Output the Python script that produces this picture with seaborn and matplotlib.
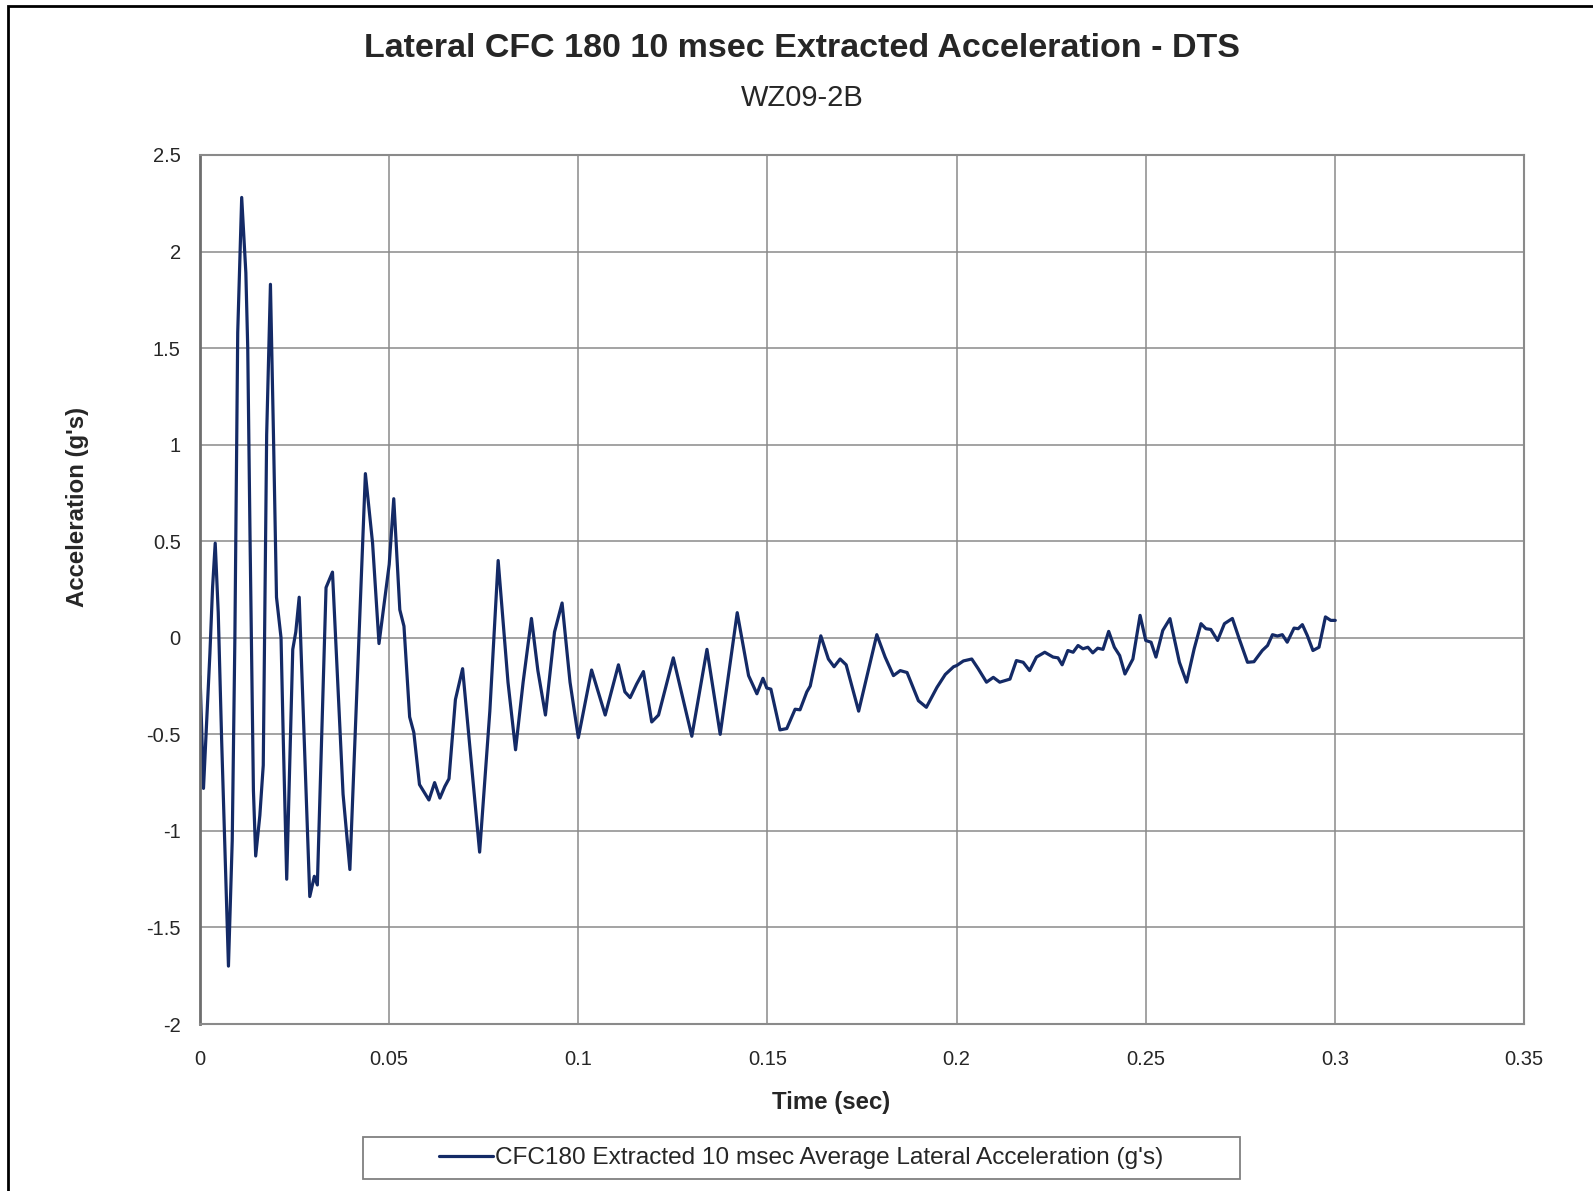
import matplotlib
matplotlib.use("Agg")
import matplotlib.pyplot as plt
from matplotlib.patches import Rectangle
import seaborn as sns
import pandas as pd

# values
time_sec = [
    0.0000, 0.0009, 0.0026, 0.0033, 0.0040, 0.0048, 0.0057, 0.0075, 0.0085, 0.0092,
    0.00995, 0.0110, 0.0121, 0.0126, 0.0132, 0.0141, 0.0147, 0.0158, 0.0167, 0.0176,
    0.0186, 0.0194, 0.0202, 0.0214, 0.0220, 0.0229, 0.0245, 0.0253, 0.0262, 0.0290,
    0.0302, 0.0310, 0.0333, 0.0350, 0.0378, 0.0396, 0.0437, 0.0456, 0.0473, 0.0488,
    0.0500, 0.0512, 0.0528, 0.0539, 0.0554, 0.0565, 0.0580, 0.0605, 0.0620, 0.0634,
    0.0647, 0.0658, 0.0675, 0.0694, 0.0739, 0.0766, 0.0788, 0.0814, 0.0834, 0.0854,
    0.0876, 0.0893, 0.0913, 0.0937, 0.0957, 0.0978, 0.1000, 0.1035, 0.1071, 0.1106,
    0.1123, 0.1137, 0.1154, 0.1172, 0.1194, 0.1212, 0.1251, 0.1300, 0.1340, 0.1375,
    0.1420, 0.1450, 0.1472, 0.1488, 0.1498, 0.1509, 0.1533, 0.1551, 0.1573, 0.1586,
    0.1604, 0.1613, 0.1641, 0.1661, 0.1676, 0.1692, 0.1708, 0.1741, 0.1789, 0.1811,
    0.1833, 0.1851, 0.1869, 0.1899, 0.1920, 0.1948, 0.1970, 0.1992, 0.2000, 0.2018,
    0.2040, 0.2057, 0.2079, 0.2097, 0.2114, 0.2141, 0.2158, 0.2176, 0.2193, 0.2211,
    0.2233, 0.2255, 0.2268, 0.2279, 0.2294, 0.2308, 0.2321, 0.2334, 0.2347, 0.2360,
    0.2373, 0.2387, 0.2402, 0.2417, 0.2431, 0.2445, 0.2466, 0.2485, 0.2500, 0.2514,
    0.2527, 0.2545, 0.2564, 0.2589, 0.2608, 0.2628, 0.2646, 0.2659, 0.2672, 0.2690,
    0.2708, 0.2729, 0.2747, 0.2769, 0.2786, 0.2808, 0.2822, 0.2835, 0.2848, 0.2861,
    0.2874, 0.2892, 0.2903, 0.2914, 0.2927, 0.2942, 0.2958, 0.2975, 0.2989, 0.3001,
]
accel_g = [
    -0.20, -0.78, -0.08, 0.26, 0.49, 0.13, -0.53, -1.70, -1.05, 0.00,
    1.58, 2.28, 1.89, 1.50, 0.53, -0.79, -1.13, -0.92, -0.66, 1.05,
    1.83, 1.05, 0.21, 0.00, -0.53, -1.25, -0.06, 0.03, 0.21, -1.34,
    -1.235, -1.28, 0.26, 0.34, -0.81, -1.20, 0.85, 0.49, -0.03, 0.20,
    0.38, 0.72, 0.145, 0.06, -0.41, -0.49, -0.76, -0.84, -0.75, -0.83,
    -0.77, -0.73, -0.32, -0.16, -1.11, -0.38, 0.40, -0.23, -0.58, -0.23,
    0.10, -0.17, -0.40, 0.03, 0.18, -0.23, -0.517, -0.167, -0.40, -0.14,
    -0.28, -0.31, -0.24, -0.175, -0.436, -0.40, -0.104, -0.51, -0.06, -0.50,
    0.13, -0.196, -0.29, -0.21, -0.26, -0.266, -0.477, -0.47, -0.37, -0.373,
    -0.28, -0.25, 0.01, -0.11, -0.15, -0.11, -0.14, -0.38, 0.016, -0.10,
    -0.196, -0.17, -0.18, -0.326, -0.36, -0.257, -0.19, -0.15, -0.144, -0.12,
    -0.11, -0.16, -0.23, -0.205, -0.23, -0.214, -0.118, -0.127, -0.17, -0.10,
    -0.075, -0.10, -0.104, -0.14, -0.066, -0.075, -0.04, -0.057, -0.049, -0.078,
    -0.054, -0.06, 0.033, -0.049, -0.092, -0.1875, -0.11, 0.116, -0.014, -0.023,
    -0.10, 0.038, 0.099, -0.127, -0.23, -0.057, 0.073, 0.047, 0.043, -0.014,
    0.073, 0.10, -0.005, -0.127, -0.124, -0.066, -0.04, 0.016, 0.009, 0.016,
    -0.023, 0.05, 0.047, 0.068, 0.012, -0.066, -0.049, 0.108, 0.09, 0.09,
]
x_ticks = [0, 0.05, 0.1, 0.15, 0.2, 0.25, 0.3, 0.35]
x_tick_labels = ["0", "0.05", "0.1", "0.15", "0.2", "0.25", "0.3", "0.35"]
y_ticks = [-2, -1.5, -1, -0.5, 0, 0.5, 1, 1.5, 2, 2.5]
y_tick_labels = ["-2", "-1.5", "-1", "-0.5", "0", "0.5", "1", "1.5", "2", "2.5"]
series_name = "CFC180 Extracted 10 msec Average Lateral Acceleration (g's)"

sns.set_style("white")
plt.rcParams["font.family"] = ["Liberation Sans", "DejaVu Sans"]
plt.rcParams["axes.unicode_minus"] = False

df = pd.DataFrame({"time": time_sec, "accel": accel_g})

fig = plt.figure(figsize=(15.93, 11.91), dpi=100)
ax = fig.add_axes([0.1256, 0.1402, 0.8311, 0.7297])

sns.lineplot(data=df, x="time", y="accel", ax=ax, color="#142a66",
             linewidth=2.3, estimator=None, sort=False, label=series_name)
for line in ax.get_lines():
    line.set_solid_joinstyle("round")

ax.set_xlim(0, 0.35)
ax.set_ylim(-2, 2.5)
ax.set_xticks(x_ticks)
ax.set_xticklabels(x_tick_labels)
ax.set_yticks(y_ticks)
ax.set_yticklabels(y_tick_labels)
ax.tick_params(axis="x", length=0, pad=19, labelsize=14.5)
ax.tick_params(axis="y", length=5, width=1, color="#808080", pad=9, labelsize=14.5)
ax.grid(True, color="#8a8a8a", linewidth=1.1)
for side in ["top", "right", "bottom"]:
    ax.spines[side].set_color("#8a8a8a")
    ax.spines[side].set_linewidth(1.5)
ax.spines["left"].set_color("#6e6e6e")
ax.spines["left"].set_linewidth(2)

ax.set_xlabel("Time (sec)", fontsize=17.3, fontweight="bold")
ax.set_ylabel("Acceleration (g's)", fontsize=17.3, fontweight="bold")
ax.yaxis.set_label_coords(-0.084, 0.595)
ax.xaxis.set_label_coords(0.477, -0.077)

fig.text(0.5035, 0.959, "Lateral CFC 180 10 msec Extracted Acceleration - DTS",
         ha="center", va="center", fontsize=24.5, fontweight="bold")
fig.text(0.5035, 0.918, "WZ09-2B", ha="center", va="center", fontsize=21)

# legend in its own box under the plot
ax.get_legend().remove()
handles, labels = ax.get_legend_handles_labels()
fig.legend(handles, labels, loc="center", bbox_to_anchor=(0.503, 0.0275),
           frameon=False, fontsize=17.6, handlelength=2.2, handletextpad=0.1)
fig.add_artist(Rectangle((363 / 1593, 1 - 1179 / 1191), 877 / 1593, 42 / 1191,
                         transform=fig.transFigure, fill=False,
                         edgecolor="#808080", linewidth=1.3))

# outer chart border (only top and left visible in the crop)
fig.add_artist(Rectangle((0.005, -0.1), 1.2, 0.995 + 0.1, transform=fig.transFigure,
                         fill=False, edgecolor="black", linewidth=2.0, clip_on=False))

fig.savefig("out.png", dpi=100)
plt.close(fig)
